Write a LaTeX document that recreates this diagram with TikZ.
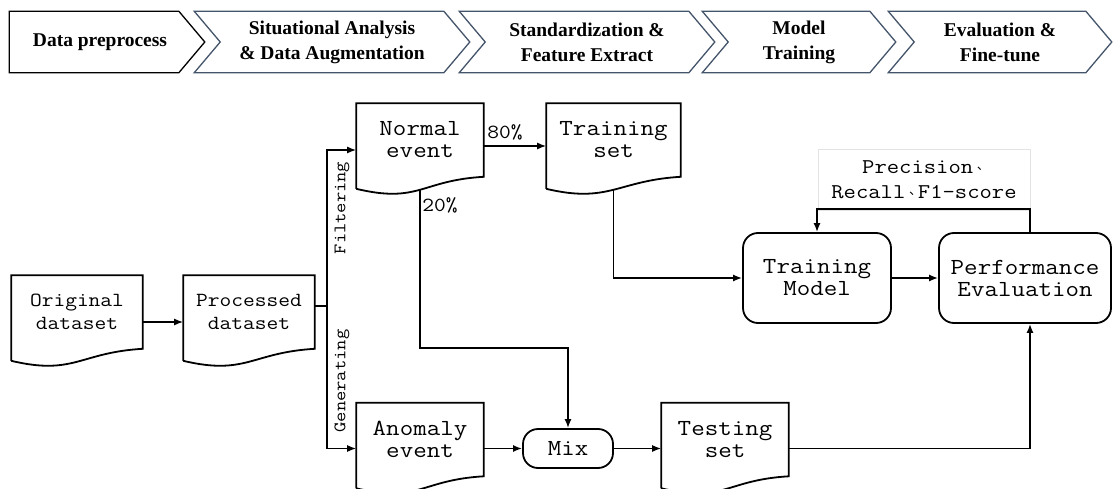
\documentclass[tikz,border=0pt]{standalone}
\usepackage{fontspec}
\setmainfont{Liberation Serif}
\setmonofont{Latin Modern Mono}[FakeStretch=1.14]
\newfontfamily\cjkfont{Noto Sans CJK TC}
\usetikzlibrary{arrows.meta,calc}
\definecolor{stageblue}{RGB}{68,84,106}
\newcommand{\dunhao}{{\cjkfont\fontsize{12.6}{12.6}\selectfont 、}}

\begin{document}
\begin{tikzpicture}[x=1pt, y=-1pt, >={Latex[length=9pt,width=7pt]},
                        stage/.style={minimum width=#1, minimum height=60, inner sep=0pt, align=center,
                            font=\bfseries\fontsize{19.5}{25}\selectfont,
                            append after command={\pgfextra{\draw[stageblue, line width=1.3, line join=miter]
                                ($(\tikzlastnode.north west)+(-26,0)$) -- (\tikzlastnode.north east)
                                -- ($(\tikzlastnode.east)+(26,0)$) -- (\tikzlastnode.south east)
                                -- ($(\tikzlastnode.south west)+(-26,0)$) -- (\tikzlastnode.west) -- cycle;}}},
                        firststage/.style={minimum width=#1, minimum height=60, inner sep=0pt, align=center,
                            font=\bfseries\fontsize{19.5}{25}\selectfont,
                            append after command={\pgfextra{\draw[black, line width=1.3, line join=miter]
                                ($(\tikzlastnode.north west)+(-12,0)$) -- (\tikzlastnode.north east)
                                -- ($(\tikzlastnode.east)+(26,0)$) -- (\tikzlastnode.south east)
                                -- ($(\tikzlastnode.south west)+(-12,0)$) -- cycle;}}},
                        doc/.style={minimum width=#1, minimum height=72, inner sep=0pt, align=center,
                            font=\ttfamily\fontsize{23}{22}\selectfont,
                            append after command={\pgfextra{\draw[line width=1.8, line join=miter]
                                ($(\tikzlastnode.south west)+(0,12)$) -- (\tikzlastnode.north west)
                                -- (\tikzlastnode.north east) -- (\tikzlastnode.south east)
                                .. controls +(-63,3.6) and +(63,15) .. ($(\tikzlastnode.south west)+(0,12)$);}}},
                        roundbox/.style={draw, line width=1.8, rounded corners=15, inner sep=0pt, align=center,
                            font=\ttfamily\fontsize{23}{22}\selectfont},
                        metric/.style={draw=gray!22, line width=0.8, minimum width=212, minimum height=61,
                            inner sep=0pt, align=center, font=\ttfamily\fontsize{21}{25}\selectfont},
                        lbl/.style={inner sep=0pt, font=\ttfamily\fontsize{17.5}{20}\selectfont},
                        pct/.style={inner sep=0pt, font=\ttfamily\fontsize{20}{22}\selectfont},
                        every path/.style={line width=1.6}]

    \useasboundingbox (0,0) rectangle (1113,489);

    % Stage banner
    \node[firststage=156] (s1) at (100,42) {Data preprocess};
    \node[stage=222] (s2) at (332,42) {Situational Analysis\\\& Data Augmentation};
    \node[stage=202] (s3) at (587,42) {Standardization \&\\Feature Extract};
    \node[stage=140] (s4) at (799,42) {Model\\Training};
    \node[stage=170] (s5) at (1000,42) {Evaluation \&\\Fine-tune};

    % Define nodes
    \node[doc=130, font=\ttfamily\fontsize{20}{23}\selectfont] (orig) at (77,312) {Original\\dataset};
    \node[doc=130, font=\ttfamily\fontsize{20}{23}\selectfont] (proc) at (249,312) {Processed\\dataset};
    \node[doc=126] (normal) at (420,140) {Normal\\event};
    \node[doc=133] (train) at (613.5,140) {Training\\set};
    \node[doc=126] (anom) at (420,439.5) {Anomaly\\event};
    \node[roundbox, minimum width=90, minimum height=39] (mix) at (568,448.5) {Mix};
    \node[doc=126] (test) at (725,439.5) {Testing\\set};
    \node[roundbox, minimum width=148, minimum height=90] (tm) at (817,278) {Training\\Model};
    \node[roundbox, minimum width=172, minimum height=90] (perf) at (1025,278) {Performance\\Evaluation};
    \node[metric] (metric) at (924,179.5) {Precision\dunhao\\Recall\dunhao F1-score};
    \coordinate (split) at (327,306); % branch point

    % Define edges
    \draw[->] ($(orig.east)+(0,10)$) -- ($(proc.west)+(0,10)$);
    \draw ($(proc.east)+(0,-6)$) -- (split);
    \draw[->] (split) |- ($(normal.west)+(0,10)$);
    \draw[->] (split) |- ($(anom.west)+(0,9)$);
    \node[lbl, rotate=90] (filt) at (342,208) {Filtering};
    \node[lbl, rotate=90] (gen) at (342,381) {Generating};
    \draw[->] ($(normal.east)+(0,6)$) -- ($(train.west)+(0,6)$);
    \node[pct] (p80) at (505,132) {80\%};
    \draw[->] ($(normal.south)+(0,13)$) -- ++(0,158) -| (mix.north);
    \node[pct] (p20) at (440,205) {20\%};
    \draw[->] (anom.east |- mix) -- (mix.west);
    \draw[->] (mix.east) -- (test.west |- mix);
    \draw[->] ($(train.south)+(0,13)$) |- (tm.west);
    \draw[->] (tm.east) -- (perf.west);
    \draw[->] (test.east |- mix) -| ($(perf.south)+(5,0)$);
    \draw[->] ($(perf.north)+(5,0)$) -- ++(0,-23) -| (tm.north);
\end{tikzpicture}
\end{document}
